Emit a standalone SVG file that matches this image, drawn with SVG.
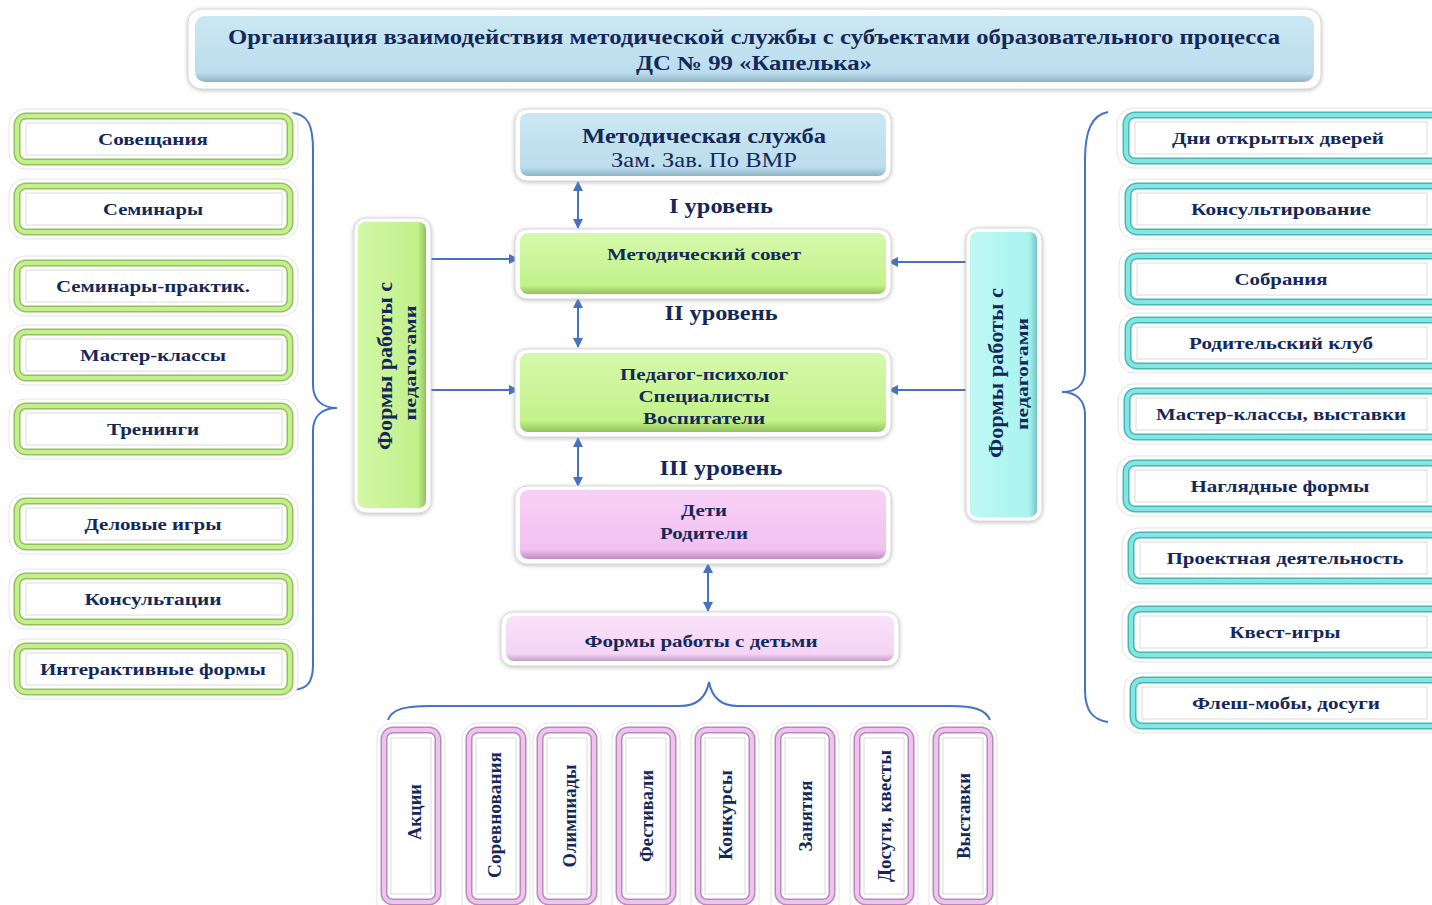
<svg xmlns="http://www.w3.org/2000/svg" width="1432" height="905" viewBox="0 0 1432 905">
<defs>
<style>
text{font-family:"Liberation Serif","DejaVu Serif",serif;fill:#14285a;font-weight:bold;text-anchor:middle}
.t17{font-size:17px}
.t18{font-size:18px}
.t20{font-size:20px}
.t21{font-size:21px}
.nb{font-weight:normal}
.frame{fill:#fff;stroke:#d8d8d8;stroke-width:1;filter:url(#sh)}
.lframe{fill:#fff;stroke:#e4e4e4;stroke-width:1}
.inner{fill:#fff;stroke:#dcdcdc;stroke-width:1}
.gO{fill:#fff;stroke:#93c05c;stroke-width:7}
.gI{fill:none;stroke:#c3ef8c;stroke-width:4}
.cO{fill:#fff;stroke:#48b6b6;stroke-width:7}
.cI{fill:none;stroke:#83e6e3;stroke-width:4}
.pO{fill:#fff;stroke:#b58bb8;stroke-width:7}
.pI{fill:none;stroke:#efc2ef;stroke-width:4}
.con{stroke:#4472c4;stroke-width:2;fill:none}
.dbl{marker-start:url(#ah);marker-end:url(#ah)}
.one{marker-end:url(#ah)}
</style>
<filter id="sh" x="-10%" y="-20%" width="120%" height="140%">
<feDropShadow dx="0" dy="1" stdDeviation="2" flood-color="#8a8a8a" flood-opacity="0.55"/>
</filter>
<marker id="ah" viewBox="0 0 10 10" refX="9" refY="5" markerWidth="5" markerHeight="5" orient="auto-start-reverse" markerUnits="strokeWidth">
<path d="M0,0 L10,5 L0,10 z" fill="#4472c4"/>
</marker>
<linearGradient id="gBlue" x1="0" y1="0" x2="0" y2="1">
<stop offset="0" stop-color="#cbe7f3"/><stop offset="0.86" stop-color="#bcdded"/><stop offset="1" stop-color="#8db3c6"/>
</linearGradient>
<linearGradient id="gGreen" x1="0" y1="0" x2="0" y2="1">
<stop offset="0" stop-color="#d6f9ab"/><stop offset="0.86" stop-color="#c3f28b"/><stop offset="1" stop-color="#93c25c"/>
</linearGradient>
<linearGradient id="gGreenV" x1="0" y1="0" x2="1" y2="0">
<stop offset="0" stop-color="#d2f8a6"/><stop offset="0.88" stop-color="#c2f08a"/><stop offset="1" stop-color="#93c25c"/>
</linearGradient>
<linearGradient id="gCyanV" x1="0" y1="0" x2="1" y2="0">
<stop offset="0" stop-color="#bff8f5"/><stop offset="0.88" stop-color="#a9f3ef"/><stop offset="1" stop-color="#76c6c3"/>
</linearGradient>
<linearGradient id="gPink" x1="0" y1="0" x2="0" y2="1">
<stop offset="0" stop-color="#f8d0f6"/><stop offset="0.86" stop-color="#f3c1f1"/><stop offset="1" stop-color="#bf8fbf"/>
</linearGradient>
<linearGradient id="gPink2" x1="0" y1="0" x2="0" y2="1">
<stop offset="0" stop-color="#f9e2f9"/><stop offset="0.84" stop-color="#f5d4f5"/><stop offset="1" stop-color="#c39ec4"/>
</linearGradient>
</defs>
<rect width="1432" height="905" fill="#fff"/>

<g id="title">
<rect class="frame" x="188" y="9" width="1133" height="80" rx="14"/>
<rect x="195" y="16" width="1119" height="66" rx="10" fill="url(#gBlue)"/>
<text class="t20" x="754" y="44" textLength="1052" lengthAdjust="spacingAndGlyphs">Организация взаимодействия методической службы с субъектами образовательного процесса</text>
<text class="t20" x="754" y="70" textLength="236" lengthAdjust="spacingAndGlyphs">ДС № 99 «Капелька»</text>
</g>

<g id="connectors">
<path class="con" d="M290,113 C308,113 313,125 313,150 L313,385 C313,400 322,408 337,408 C322,408 313,416 313,431 L313,665 C313,684 306,690 290,690"/>
<path class="con" d="M1108,112 C1092,115 1085,130 1085,160 L1085,370 C1085,385 1076,392 1062,392 C1076,392 1085,400 1085,415 L1085,690 C1085,712 1094,720 1108,722"/>
<path class="con" d="M388,720 C392,709 405,706 430,706 L680,706 C697,706 706,698 709,682 C712,698 721,706 738,706 L950,706 C975,706 986,710 990,720"/>
<line class="con dbl" x1="578" y1="182" x2="578" y2="228"/>
<line class="con dbl" x1="578" y1="299" x2="578" y2="347"/>
<line class="con dbl" x1="578" y1="438" x2="578" y2="486"/>
<line class="con dbl" x1="708" y1="564" x2="708" y2="611"/>
<line class="con one" x1="428" y1="259" x2="518" y2="259"/>
<line class="con one" x1="428" y1="390" x2="518" y2="390"/>
<line class="con one" x1="968" y1="262" x2="889" y2="262"/>
<line class="con one" x1="968" y1="390" x2="889" y2="390"/>
</g>

<g id="level-labels">
<text class="t20" x="721" y="213" textLength="104" lengthAdjust="spacingAndGlyphs">I уровень</text>
<text class="t20" x="721" y="320" textLength="113" lengthAdjust="spacingAndGlyphs">II уровень</text>
<text class="t20" x="721" y="475" textLength="123" lengthAdjust="spacingAndGlyphs">III уровень</text>
</g>

<g id="metod-sluzhba">
<rect class="frame" x="515" y="109" width="376" height="72" rx="12"/>
<rect x="520" y="113" width="366" height="63" rx="8" fill="url(#gBlue)"/>
<text class="t21" x="704" y="143" textLength="244" lengthAdjust="spacingAndGlyphs">Методическая служба</text>
<text class="t21 nb" x="704" y="167" textLength="186" lengthAdjust="spacingAndGlyphs">Зам. Зав. По ВМР</text>
</g>

<g id="metod-sovet">
<rect class="frame" x="515" y="229" width="376" height="70" rx="12"/>
<rect x="520" y="233" width="366" height="61" rx="8" fill="url(#gGreen)"/>
<text class="t17" x="704" y="260" textLength="194" lengthAdjust="spacingAndGlyphs">Методический совет</text>
</g>

<g id="pedagogi">
<rect class="frame" x="515" y="349" width="376" height="88" rx="12"/>
<rect x="520" y="353" width="366" height="79" rx="8" fill="url(#gGreen)"/>
<text class="t17" x="704" y="380" textLength="168" lengthAdjust="spacingAndGlyphs">Педагог-психолог</text>
<text class="t17" x="704" y="402" textLength="131" lengthAdjust="spacingAndGlyphs">Специалисты</text>
<text class="t17" x="704" y="424" textLength="122" lengthAdjust="spacingAndGlyphs">Воспитатели</text>
</g>

<g id="deti-roditeli">
<rect class="frame" x="515" y="486" width="376" height="78" rx="12"/>
<rect x="520" y="490" width="366" height="69" rx="8" fill="url(#gPink)"/>
<text class="t17" x="704" y="516" textLength="46" lengthAdjust="spacingAndGlyphs">Дети</text>
<text class="t17" x="704" y="539" textLength="88" lengthAdjust="spacingAndGlyphs">Родители</text>
</g>

<g id="formy-deti">
<rect class="frame" x="501" y="612" width="398" height="54" rx="12"/>
<rect x="506" y="616" width="388" height="45" rx="8" fill="url(#gPink2)"/>
<text class="t17" x="701" y="647" textLength="233" lengthAdjust="spacingAndGlyphs">Формы работы с детьми</text>
</g>

<g id="formy-pedagogi-left">
<rect class="frame" x="354" y="218" width="77" height="295" rx="12"/>
<rect x="358" y="222" width="68" height="286" rx="7" fill="url(#gGreenV)"/>
<text class="t21" transform="translate(392,366) rotate(-90)" textLength="168" lengthAdjust="spacingAndGlyphs">Формы работы с</text>
<text class="t17" transform="translate(416,363) rotate(-90)" textLength="115" lengthAdjust="spacingAndGlyphs">педагогами</text>
</g>

<g id="formy-pedagogi-right">
<rect class="frame" x="966" y="228" width="76" height="293" rx="12"/>
<rect x="970" y="232" width="67" height="285" rx="7" fill="url(#gCyanV)"/>
<text class="t21" transform="translate(1003,373) rotate(-90)" textLength="170" lengthAdjust="spacingAndGlyphs">Формы работы с</text>
<text class="t17" transform="translate(1028,374) rotate(-90)" textLength="112" lengthAdjust="spacingAndGlyphs">педагогами</text>
</g>

<g id="left-1"><rect class="lframe" x="9" y="109" width="289" height="60" rx="16"/><rect class="gO" x="17" y="116" width="273" height="46" rx="9"/><rect class="gI" x="17" y="116" width="273" height="46" rx="9"/><rect class="inner" x="26" y="123" width="256" height="32"/><text class="t17" x="153" y="145" textLength="110" lengthAdjust="spacingAndGlyphs">Совещания</text></g>
<g id="left-2"><rect class="lframe" x="9" y="179" width="289" height="60" rx="16"/><rect class="gO" x="17" y="186" width="273" height="46" rx="9"/><rect class="gI" x="17" y="186" width="273" height="46" rx="9"/><rect class="inner" x="26" y="193" width="256" height="32"/><text class="t17" x="153" y="215" textLength="100" lengthAdjust="spacingAndGlyphs">Семинары</text></g>
<g id="left-3"><rect class="lframe" x="9" y="256" width="289" height="60" rx="16"/><rect class="gO" x="17" y="263" width="273" height="46" rx="9"/><rect class="gI" x="17" y="263" width="273" height="46" rx="9"/><rect class="inner" x="26" y="270" width="256" height="32"/><text class="t17" x="153" y="292" textLength="194" lengthAdjust="spacingAndGlyphs">Семинары-практик.</text></g>
<g id="left-4"><rect class="lframe" x="9" y="325" width="289" height="60" rx="16"/><rect class="gO" x="17" y="332" width="273" height="46" rx="9"/><rect class="gI" x="17" y="332" width="273" height="46" rx="9"/><rect class="inner" x="26" y="339" width="256" height="32"/><text class="t17" x="153" y="361" textLength="146" lengthAdjust="spacingAndGlyphs">Мастер-классы</text></g>
<g id="left-5"><rect class="lframe" x="9" y="399" width="289" height="60" rx="16"/><rect class="gO" x="17" y="406" width="273" height="46" rx="9"/><rect class="gI" x="17" y="406" width="273" height="46" rx="9"/><rect class="inner" x="26" y="413" width="256" height="32"/><text class="t17" x="153" y="435" textLength="92" lengthAdjust="spacingAndGlyphs">Тренинги</text></g>
<g id="left-6"><rect class="lframe" x="9" y="494" width="289" height="60" rx="16"/><rect class="gO" x="17" y="501" width="273" height="46" rx="9"/><rect class="gI" x="17" y="501" width="273" height="46" rx="9"/><rect class="inner" x="26" y="508" width="256" height="32"/><text class="t17" x="153" y="530" textLength="137" lengthAdjust="spacingAndGlyphs">Деловые игры</text></g>
<g id="left-7"><rect class="lframe" x="9" y="569" width="289" height="60" rx="16"/><rect class="gO" x="17" y="576" width="273" height="46" rx="9"/><rect class="gI" x="17" y="576" width="273" height="46" rx="9"/><rect class="inner" x="26" y="583" width="256" height="32"/><text class="t17" x="153" y="605" textLength="137" lengthAdjust="spacingAndGlyphs">Консультации</text></g>
<g id="left-8"><rect class="lframe" x="9" y="639" width="289" height="60" rx="16"/><rect class="gO" x="17" y="646" width="273" height="46" rx="9"/><rect class="gI" x="17" y="646" width="273" height="46" rx="9"/><rect class="inner" x="26" y="653" width="256" height="32"/><text class="t17" x="153" y="675" textLength="226" lengthAdjust="spacingAndGlyphs">Интерактивные формы</text></g>

<g id="right-1"><rect class="lframe" x="1117" y="108" width="330" height="60" rx="16"/><rect class="cO" x="1126" y="115" width="315" height="46" rx="9"/><rect class="cI" x="1126" y="115" width="315" height="46" rx="9"/><rect class="inner" x="1135" y="122" width="292" height="32"/><text class="t17" x="1278" y="144" textLength="212" lengthAdjust="spacingAndGlyphs">Дни открытых дверей</text></g>
<g id="right-2"><rect class="lframe" x="1119" y="179" width="330" height="60" rx="16"/><rect class="cO" x="1128" y="186" width="315" height="46" rx="9"/><rect class="cI" x="1128" y="186" width="315" height="46" rx="9"/><rect class="inner" x="1137" y="193" width="290" height="32"/><text class="t17" x="1281" y="215" textLength="180" lengthAdjust="spacingAndGlyphs">Консультирование</text></g>
<g id="right-3"><rect class="lframe" x="1119" y="249" width="330" height="60" rx="16"/><rect class="cO" x="1128" y="256" width="315" height="46" rx="9"/><rect class="cI" x="1128" y="256" width="315" height="46" rx="9"/><rect class="inner" x="1137" y="263" width="290" height="32"/><text class="t17" x="1281" y="285" textLength="93" lengthAdjust="spacingAndGlyphs">Собрания</text></g>
<g id="right-4"><rect class="lframe" x="1119" y="313" width="330" height="60" rx="16"/><rect class="cO" x="1128" y="320" width="315" height="46" rx="9"/><rect class="cI" x="1128" y="320" width="315" height="46" rx="9"/><rect class="inner" x="1137" y="327" width="290" height="32"/><text class="t17" x="1281" y="349" textLength="184" lengthAdjust="spacingAndGlyphs">Родительский клуб</text></g>
<g id="right-5"><rect class="lframe" x="1118" y="384" width="330" height="60" rx="16"/><rect class="cO" x="1127" y="391" width="315" height="46" rx="9"/><rect class="cI" x="1127" y="391" width="315" height="46" rx="9"/><rect class="inner" x="1136" y="398" width="291" height="32"/><text class="t17" x="1281" y="420" textLength="250" lengthAdjust="spacingAndGlyphs">Мастер-классы, выставки</text></g>
<g id="right-6"><rect class="lframe" x="1117" y="456" width="330" height="60" rx="16"/><rect class="cO" x="1126" y="463" width="315" height="46" rx="9"/><rect class="cI" x="1126" y="463" width="315" height="46" rx="9"/><rect class="inner" x="1135" y="470" width="292" height="32"/><text class="t17" x="1280" y="492" textLength="179" lengthAdjust="spacingAndGlyphs">Наглядные формы</text></g>
<g id="right-7"><rect class="lframe" x="1122" y="528" width="330" height="60" rx="16"/><rect class="cO" x="1131" y="535" width="315" height="46" rx="9"/><rect class="cI" x="1131" y="535" width="315" height="46" rx="9"/><rect class="inner" x="1140" y="542" width="287" height="32"/><text class="t17" x="1285" y="564" textLength="237" lengthAdjust="spacingAndGlyphs">Проектная деятельность</text></g>
<g id="right-8"><rect class="lframe" x="1122" y="602" width="330" height="60" rx="16"/><rect class="cO" x="1131" y="609" width="315" height="46" rx="9"/><rect class="cI" x="1131" y="609" width="315" height="46" rx="9"/><rect class="inner" x="1140" y="616" width="287" height="32"/><text class="t17" x="1285" y="638" textLength="111" lengthAdjust="spacingAndGlyphs">Квест-игры</text></g>
<g id="right-9"><rect class="lframe" x="1124" y="673" width="330" height="60" rx="16"/><rect class="cO" x="1133" y="680" width="315" height="46" rx="9"/><rect class="cI" x="1133" y="680" width="315" height="46" rx="9"/><rect class="inner" x="1142" y="687" width="285" height="32"/><text class="t17" x="1286" y="709" textLength="188" lengthAdjust="spacingAndGlyphs">Флеш-мобы, досуги</text></g>

<g id="bottom-1"><rect class="lframe" x="377" y="723" width="68" height="200" rx="16"/><rect class="pO" x="384" y="730" width="54" height="172" rx="9"/><rect class="pI" x="384" y="730" width="54" height="172" rx="9"/><rect class="inner" x="391" y="738" width="40" height="156"/><text class="t18" transform="translate(415,812) rotate(-90)" y="6" textLength="56" lengthAdjust="spacingAndGlyphs">Акции</text></g>
<g id="bottom-2"><rect class="lframe" x="462" y="723" width="68" height="200" rx="16"/><rect class="pO" x="469" y="730" width="54" height="172" rx="9"/><rect class="pI" x="469" y="730" width="54" height="172" rx="9"/><rect class="inner" x="476" y="738" width="40" height="156"/><text class="t18" transform="translate(495,815) rotate(-90)" y="6" textLength="126" lengthAdjust="spacingAndGlyphs">Соревнования</text></g>
<g id="bottom-3"><rect class="lframe" x="533" y="723" width="68" height="200" rx="16"/><rect class="pO" x="540" y="730" width="54" height="172" rx="9"/><rect class="pI" x="540" y="730" width="54" height="172" rx="9"/><rect class="inner" x="547" y="738" width="40" height="156"/><text class="t18" transform="translate(570,816) rotate(-90)" y="6" textLength="103" lengthAdjust="spacingAndGlyphs">Олимпиады</text></g>
<g id="bottom-4"><rect class="lframe" x="612" y="723" width="68" height="200" rx="16"/><rect class="pO" x="619" y="730" width="54" height="172" rx="9"/><rect class="pI" x="619" y="730" width="54" height="172" rx="9"/><rect class="inner" x="626" y="738" width="40" height="156"/><text class="t18" transform="translate(647,816) rotate(-90)" y="6" textLength="92" lengthAdjust="spacingAndGlyphs">Фестивали</text></g>
<g id="bottom-5"><rect class="lframe" x="691" y="723" width="68" height="200" rx="16"/><rect class="pO" x="698" y="730" width="54" height="172" rx="9"/><rect class="pI" x="698" y="730" width="54" height="172" rx="9"/><rect class="inner" x="705" y="738" width="40" height="156"/><text class="t18" transform="translate(726,815) rotate(-90)" y="6" textLength="90" lengthAdjust="spacingAndGlyphs">Конкурсы</text></g>
<g id="bottom-6"><rect class="lframe" x="771" y="723" width="68" height="200" rx="16"/><rect class="pO" x="778" y="730" width="54" height="172" rx="9"/><rect class="pI" x="778" y="730" width="54" height="172" rx="9"/><rect class="inner" x="785" y="738" width="40" height="156"/><text class="t18" transform="translate(806,816) rotate(-90)" y="6" textLength="71" lengthAdjust="spacingAndGlyphs">Занятия</text></g>
<g id="bottom-7"><rect class="lframe" x="850" y="723" width="68" height="200" rx="16"/><rect class="pO" x="857" y="730" width="54" height="172" rx="9"/><rect class="pI" x="857" y="730" width="54" height="172" rx="9"/><rect class="inner" x="864" y="738" width="40" height="156"/><text class="t18" transform="translate(885,816) rotate(-90)" y="6" textLength="132" lengthAdjust="spacingAndGlyphs">Досуги, квесты</text></g>
<g id="bottom-8"><rect class="lframe" x="929" y="723" width="68" height="200" rx="16"/><rect class="pO" x="936" y="730" width="54" height="172" rx="9"/><rect class="pI" x="936" y="730" width="54" height="172" rx="9"/><rect class="inner" x="943" y="738" width="40" height="156"/><text class="t18" transform="translate(964,816) rotate(-90)" y="6" textLength="86" lengthAdjust="spacingAndGlyphs">Выставки</text></g>
</svg>
